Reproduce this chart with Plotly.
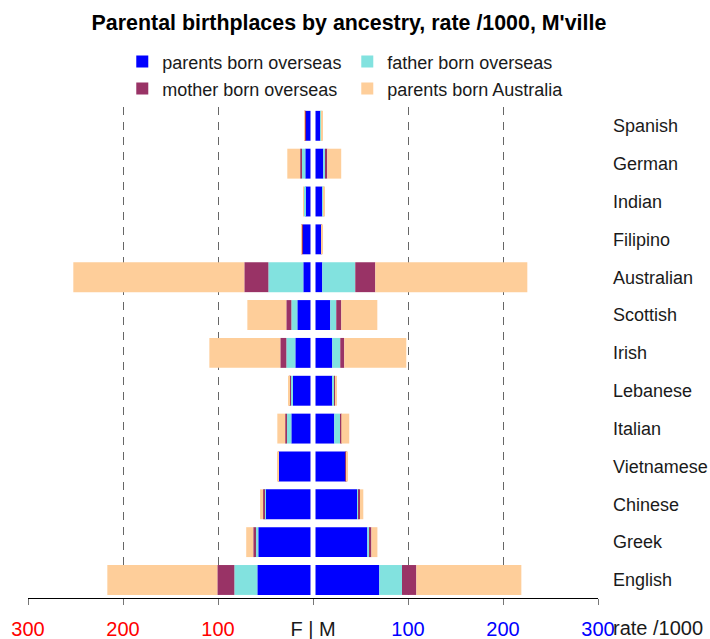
import plotly.graph_objects as go

# Data (top-to-bottom display order)
ancestry = ["Spanish", "German", "Indian", "Filipino", "Australian", "Scottish", "Irish",
            "Lebanese", "Italian", "Vietnamese", "Chinese", "Greek", "English"]

# Males (M, right side), rate /1000
m_parents_overseas = [7.7, 10.8, 9.8, 8.7, 9.8, 18.2, 20.3, 20.3, 22.4, 34.3, 46.6, 57.2, 69.8]
m_father_overseas = [1.1, 2.1, 1.1, 0.0, 34.7, 6.3, 8.4, 1.8, 6.3, 0.0, 1.8, 2.5, 23.9]
m_mother_overseas = [0.0, 2.1, 0.0, 0.7, 21.1, 5.3, 4.2, 1.05, 1.05, 0.7, 1.05, 1.8, 15.1]
m_parents_australia = [0.7, 14.7, 0.7, 0.2, 160.0, 37.9, 65.3, 2.1, 8.4, 1.0, 3.5, 6.3, 110.5]

# Females (F, left side), rate /1000
f_parents_overseas = [7.8, 8.1, 8.1, 10.9, 10.2, 16.5, 18.6, 21.1, 22.8, 35.8, 50.2, 57.6, 58.6]
f_father_overseas = [0.0, 4.2, 1.4, 0.0, 36.8, 6.3, 9.5, 2.1, 5.3, 0.0, 0.5, 3.2, 24.2]
f_mother_overseas = [0.8, 1.05, 0.0, 0.8, 25.3, 5.3, 6.3, 1.05, 1.05, 1.0, 1.8, 2.1, 17.9]
f_parents_australia = [0.5, 13.7, 0.5, 0.5, 180.0, 41.0, 74.7, 1.8, 8.4, 0.7, 3.2, 7.4, 115.8]

series_names = ["parents born overseas", "father born overseas",
                "mother born overseas", "parents born Australia"]
colors = ["#0000FF", "#82E2DF", "#993366", "#FECE9A"]
legend_ids = ["legend", "legend", "legend2", "legend2"]

tick_vals = [-300, -200, -100, 0, 100, 200, 300]
tick_text = ['<span style="color:#FF0000">300</span>',
             '<span style="color:#FF0000">200</span>',
             '<span style="color:#FF0000">100</span>',
             'F | M',
             '<span style="color:#0000FF">100</span>',
             '<span style="color:#0000FF">200</span>',
             '<span style="color:#0000FF">300</span>']

male = [m_parents_overseas, m_father_overseas, m_mother_overseas, m_parents_australia]
female = [f_parents_overseas, f_father_overseas, f_mother_overseas, f_parents_australia]

fig = go.Figure()
for name, col, lg, mv, fv in zip(series_names, colors, legend_ids, male, female):
    fig.add_trace(go.Bar(y=ancestry, x=mv, orientation="h", name=name,
                         marker=dict(color=col, line=dict(width=0)),
                         legend=lg, showlegend=True))
    fig.add_trace(go.Bar(y=ancestry, x=[-v for v in fv], orientation="h", name=name,
                         marker=dict(color=col, line=dict(width=0)),
                         legend=lg, showlegend=False))

fig.update_layout(
    width=710, height=639,
    barmode="relative", bargap=0.21,
    plot_bgcolor="white", paper_bgcolor="white",
    font=dict(family="Liberation Sans, Arial, sans-serif", color="#1a1a1a"),
    margin=dict(l=28, r=112, t=107, b=41, autoexpand=False),
    title=dict(text="<b>Parental birthplaces by ancestry, rate /1000, M'ville</b>",
               font=dict(size=21.4, color="#000000"),
               x=0.4915, xanchor="center", xref="container",
               y=1 - 22.5 / 639, yanchor="middle", yref="container"),
    legend=dict(orientation="h", x=0.1654, xanchor="left", y=1.1297, yanchor="top",
                entrywidth=180, entrywidthmode="pixels",
                font=dict(size=18, color="#1a1a1a"), bgcolor="rgba(0,0,0,0)"),
    legend2=dict(orientation="h", x=0.1654, xanchor="left", y=1.0747, yanchor="top",
                 entrywidth=180, entrywidthmode="pixels",
                 font=dict(size=18, color="#1a1a1a"), bgcolor="rgba(0,0,0,0)"),
    xaxis=dict(range=[-300, 300], tickvals=tick_vals, ticktext=tick_text,
               showgrid=True, gridcolor="#666666", gridwidth=1, griddash="8px,7px",
               zeroline=False, showline=True, linecolor="#000000", linewidth=1,
               ticks="outside", ticklen=6, tickcolor="#777777", ticklabelstandoff=7,
               tickfont=dict(size=20, color="#1a1a1a"), fixedrange=True,
               automargin=False),
    yaxis=dict(type="category", categoryorder="array",
               categoryarray=list(reversed(ancestry)),
               range=[-0.476, 12.497], side="right",
               showgrid=False, zeroline=False, showline=False, ticks="",
               tickfont=dict(size=18, color="#1a1a1a"), ticklabelstandoff=14,
               fixedrange=True, automargin=False),
    shapes=[dict(type="line", xref="x", yref="paper", x0=0, x1=0, y0=0.003, y1=1,
                 line=dict(color="white", width=5), layer="above")],
    annotations=[dict(text="rate /1000", xref="paper", yref="paper",
                      x=(611.3 - 28) / 570, y=-(628 - 598) / 491,
                      xanchor="left", yanchor="middle", showarrow=False,
                      font=dict(size=20, color="#1a1a1a"))],
)

fig.write_html("out.html", config={"displayModeBar": False},
               post_script="document.body.style.margin='0';")
